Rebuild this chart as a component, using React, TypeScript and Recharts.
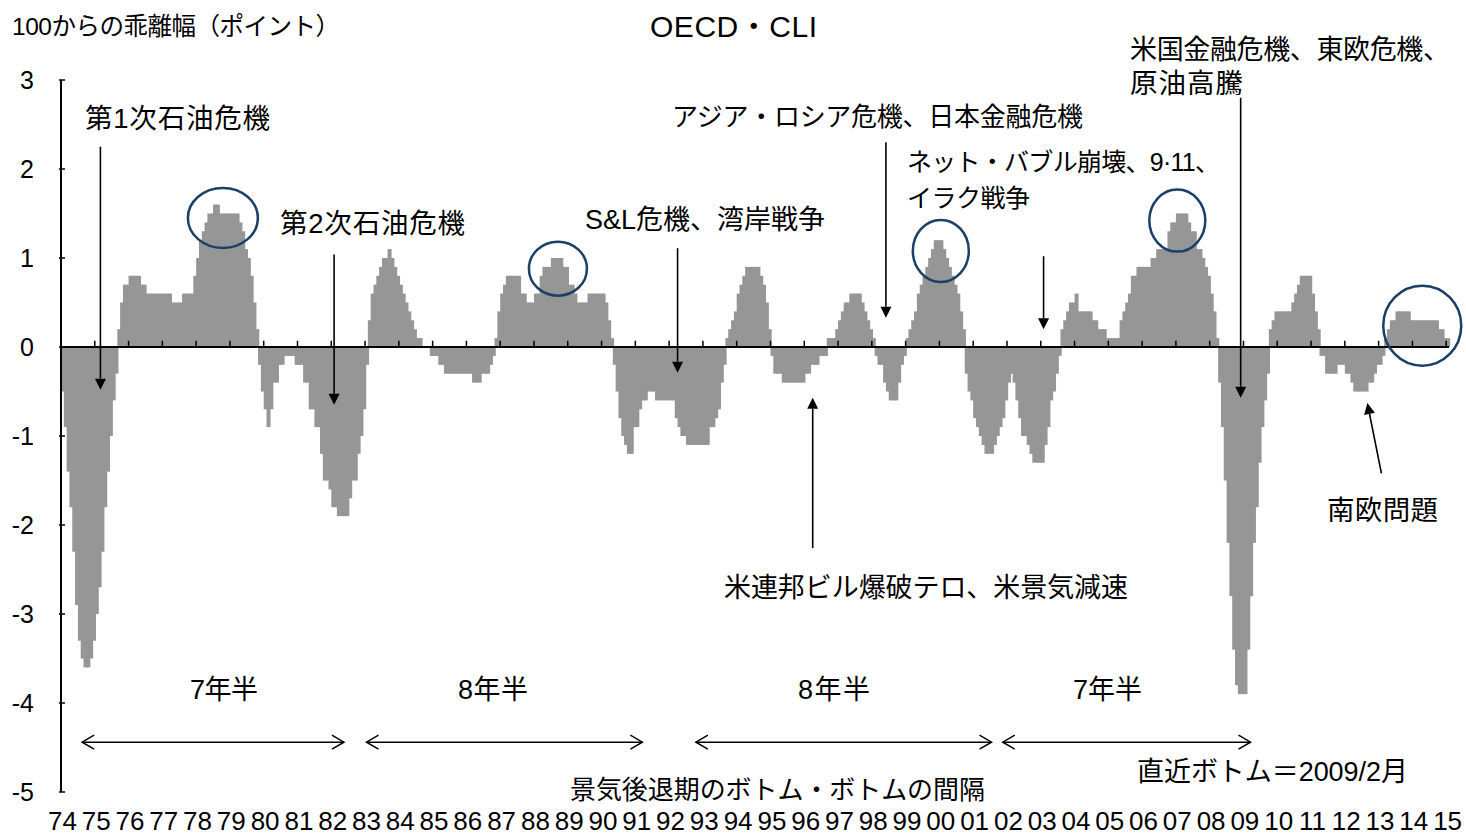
import React from "react";
import { BarChart, Bar, XAxis, YAxis, ReferenceLine, ReferenceDot } from "recharts";

// OECD CLI, deviation from 100 (points), monthly Jan 1974 - Jan 2015
const cli1970s = [
  -0.5, -0.9, -1.4, -1.8, -2.3, -2.9, -3.3, -3.5, -3.6, -3.6, -3.5, -3.3, // 74
  -3.0, -2.7, -2.3, -1.8, -1.4, -1.0, -0.6, -0.3, 0.2, 0.5, 0.7, 0.7, // 75
  0.8, 0.8, 0.8, 0.8, 0.7, 0.7, 0.6, 0.6, 0.6, 0.6, 0.6, 0.6, // 76
  0.6, 0.6, 0.6, 0.5, 0.5, 0.5, 0.5, 0.6, 0.6, 0.6, 0.6, 0.8, // 77
  1.0, 1.2, 1.3, 1.4, 1.5, 1.5, 1.6, 1.6, 1.5, 1.5, 1.5, 1.5, // 78
  1.5, 1.5, 1.5, 1.4, 1.3, 1.1, 1.0, 0.8, 0.5, 0.2, -0.2, -0.5, // 79
];
const cli1980s = [
  -0.7, -0.9, -0.7, -0.4, -0.4, -0.2, -0.2, -0.1, -0.1, -0.1, -0.1, -0.2,
  -0.2, -0.2, -0.4, -0.4, -0.7, -0.7, -0.9, -0.9, -1.2, -1.5, -1.5, -1.6,
  -1.8, -1.8, -1.9, -1.9, -1.9, -1.9, -1.7, -1.5, -1.5, -1.2, -1.0, -0.7,
  -0.2, 0.3, 0.6, 0.7, 0.8, 0.9, 1.0, 1.0, 1.1, 1.0, 0.9, 0.8,
  0.7, 0.6, 0.5, 0.4, 0.3, 0.2, 0.1, 0.1, 0, 0, 0, -0.1,
  -0.1, -0.1, -0.2, -0.2, -0.3, -0.3, -0.3, -0.3, -0.3, -0.3, -0.3, -0.3,
  -0.3, -0.3, -0.4, -0.4, -0.4, -0.3, -0.3, -0.3, -0.2, -0.1, 0.1, 0.4,
  0.6, 0.7, 0.8, 0.8, 0.8, 0.8, 0.8, 0.6, 0.6, 0.5, 0.5, 0.5,
  0.6, 0.6, 0.8, 0.9, 0.9, 0.9, 1.0, 1.0, 1.0, 1.0, 0.9, 0.9,
  0.7, 0.7, 0.6, 0.5, 0.5, 0.5, 0.5, 0.6, 0.6, 0.6, 0.6, 0.6,
];
const cli1990s = [
  0.6, 0.5, 0.3, 0.1, -0.2, -0.5, -0.8, -1.0, -1.1, -1.2, -1.2, -0.9,
  -0.9, -0.7, -0.6, -0.6, -0.5, -0.5, -0.5, -0.6, -0.6, -0.6, -0.6, -0.6,
  -0.6, -0.6, -0.8, -0.9, -1.0, -1.0, -1.1, -1.1, -1.1, -1.1, -1.1, -1.1,
  -1.1, -1.1, -0.9, -0.9, -0.8, -0.7, -0.4, -0.2, 0.1, 0.2, 0.3, 0.4,
  0.6, 0.7, 0.8, 0.9, 0.9, 0.9, 0.9, 0.9, 0.8, 0.7, 0.5, 0.2,
  -0.1, -0.3, -0.3, -0.3, -0.4, -0.4, -0.4, -0.4, -0.4, -0.4, -0.4, -0.4,
  -0.3, -0.3, -0.2, -0.2, -0.2, -0.1, -0.1, -0.1, 0.1, 0.1, 0.1, 0.2,
  0.3, 0.4, 0.5, 0.5, 0.6, 0.6, 0.6, 0.6, 0.5, 0.4, 0.3, 0.2,
  0.1, -0.1, -0.2, -0.2, -0.4, -0.5, -0.6, -0.6, -0.6, -0.4, -0.2, -0.1,
  0.1, 0.2, 0.3, 0.4, 0.6, 0.7, 0.8, 0.9, 1.0, 1.1, 1.2, 1.2,
];
const cli2000s = [
  1.2, 1.1, 1.0, 0.9, 0.8, 0.7, 0.6, 0.4, 0.2, -0.3, -0.5, -0.6,
  -0.8, -0.9, -1.0, -1.1, -1.2, -1.2, -1.2, -1.1, -1.0, -0.9, -0.8, -0.6,
  -0.4, -0.3, -0.4, -0.6, -0.8, -1.0, -1.0, -1.1, -1.2, -1.3, -1.3, -1.3,
  -1.3, -1.1, -0.9, -0.6, -0.5, -0.3, -0.1, 0.2, 0.3, 0.4, 0.5, 0.5,
  0.6, 0.4, 0.4, 0.4, 0.4, 0.4, 0.3, 0.3, 0.2, 0.2, 0.2, 0.1,
  0.1, 0.1, 0.1, 0.1, 0.3, 0.4, 0.5, 0.6, 0.8, 0.8, 0.9, 0.9,
  0.9, 0.9, 0.9, 1.0, 1.0, 1.1, 1.1, 1.1, 1.1, 1.3, 1.4, 1.4,
  1.5, 1.5, 1.5, 1.5, 1.4, 1.3, 1.3, 1.1, 1.1, 1.0, 0.9, 0.8,
  0.6, 0.4, 0.1, -0.4, -0.9, -1.5, -2.2, -2.8, -3.4, -3.8, -3.9, -3.9,
  -3.9, -3.4, -2.8, -2.2, -1.8, -1.3, -0.9, -0.6, -0.3, 0.2, 0.3, 0.4,
];
const cli2010s = [
  0.4, 0.4, 0.4, 0.4, 0.4, 0.5, 0.6, 0.7, 0.8, 0.8, 0.8, 0.8,
  0.6, 0.4, 0.2, -0.1, -0.1, -0.3, -0.3, -0.3, -0.3, -0.2, -0.2, -0.2,
  -0.3, -0.3, -0.4, -0.5, -0.5, -0.5, -0.5, -0.5, -0.4, -0.4, -0.3, -0.2,
  -0.2, -0.1, 0.1, 0.2, 0.3, 0.3, 0.4, 0.4, 0.4, 0.4, 0.4, 0.3,
  0.3, 0.3, 0.3, 0.3, 0.3, 0.3, 0.3, 0.3, 0.3, 0.2, 0.2, 0.1,
  0.1,
];

const yearLabels = [
  "74", "75", "76", "77", "78", "79", "80", "81", "82", "83", "84", "85", "86", "87",
  "88", "89", "90", "91", "92", "93", "94", "95", "96", "97", "98", "99", "00", "01",
  "02", "03", "04", "05", "06", "07", "08", "09", "10", "11", "12", "13", "14", "15",
];
const yTicks = [-5, -4, -3, -2, -1, 0, 1, 2, 3];

// annotation arrows, in (month index, value) coordinates
const eventArrows = [
  { from: [14, 2.25], to: [14, -0.48] }, // 第1次石油危機
  { from: [97, 1.04], to: [97, -0.65] }, // 第2次石油危機
  { from: [219, 1.11], to: [219, -0.29] }, // S&L
  { from: [293, 2.3], to: [293, 0.33] }, // アジア・ロシア
  { from: [267, -2.26], to: [267, -0.57] }, // 米連邦ビル
  { from: [349, 1.02], to: [349, 0.2] }, // ネット・バブル
  { from: [419, 2.8], to: [419, -0.57] }, // 米国金融危機
  { from: [469, -1.42], to: [464, -0.63] }, // 南欧問題
];
const cycleSpans = [
  [7, 100],
  [108, 206],
  [225, 330],
  [334, 422],
];
const cycleSpanLevel = -4.44;
const peakRings = [
  { month: 57, level: 1.45, rx: 35, ry: 30 },
  { month: 176, level: 0.88, rx: 29, ry: 27 },
  { month: 312, level: 1.08, rx: 28, ry: 31 },
  { month: 396, level: 1.42, rx: 28, ry: 31 },
  { month: 483, level: 0.24, rx: 39, ry: 40 },
];

// x = left edge, y = middle, w = width of the text in the source picture
const notes = [
  { text: "第1次石油危機", x: 85, y: 118, w: 185, size: 27.5 },
  { text: "第2次石油危機", x: 280, y: 223, w: 185, size: 27.5 },
  { text: "S&L危機、湾岸戦争", x: 585, y: 220, w: 240, size: 27 },
  { text: "アジア・ロシア危機、日本金融危機", x: 672, y: 117, w: 411, size: 26 },
  { text: "ネット・バブル崩壊、9·11、", x: 907, y: 162, w: 313, size: 25 },
  { text: "イラク戦争", x: 907, y: 198, w: 123, size: 25 },
  { text: "米国金融危機、東欧危機、", x: 1130, y: 50, w: 320, size: 27 },
  { text: "原油高騰", x: 1130, y: 83, w: 113, size: 27.5 },
  { text: "米連邦ビル爆破テロ、米景気減速", x: 724, y: 588, w: 404, size: 27 },
  { text: "南欧問題", x: 1327, y: 510, w: 111, size: 27.5 },
  { text: "7年半", x: 190, y: 690, w: 68, size: 27 },
  { text: "8年半", x: 458, y: 690, w: 70, size: 27 },
  { text: "8年半", x: 798, y: 690, w: 72, size: 27 },
  { text: "7年半", x: 1073, y: 690, w: 69, size: 27 },
  { text: "景気後退期のボトム・ボトムの間隔", x: 570, y: 790, w: 415, size: 26 },
  { text: "直近ボトム＝2009/2月", x: 1137, y: 772, w: 271, size: 27 },
];

const FONT = "'Liberation Sans', Arial, 'Noto Sans CJK JP', sans-serif";
const BAR_GRAY = "#969696";
const RING_BLUE = "#1b3f66";

const data = [...cli1970s, ...cli1980s, ...cli1990s, ...cli2000s, ...cli2010s].map(
  (v, i) => ({ idx: i, cli: v })
);
const yearStarts = yearLabels.map((_, k) => k * 12);

// bars are ~2.8px wide; recharts truncates to 2px so widen by 1 to close the gaps
const SolidBar = (p: any) => {
  const { x, y, width, height } = p;
  if (!height) return <g />;
  const top = height < 0 ? y + height : y;
  return <rect x={x} y={top} width={width + 1} height={Math.abs(height)} fill={BAR_GRAY} />;
};

const PointerArrow = (p: any) => {
  const { x1, y1, x2, y2 } = p;
  const a = Math.atan2(y2 - y1, x2 - x1);
  const len = 11;
  const hw = 5.5;
  const bx = x2 - len * Math.cos(a);
  const by = y2 - len * Math.sin(a);
  const px = -Math.sin(a) * hw;
  const py = Math.cos(a) * hw;
  return (
    <g>
      <line x1={x1} y1={y1} x2={bx} y2={by} stroke="#000" strokeWidth={1.6} />
      <polygon points={`${x2},${y2} ${bx + px},${by + py} ${bx - px},${by - py}`} fill="#000" />
    </g>
  );
};

const SpanArrow = (p: any) => {
  const { x1, y1, x2 } = p;
  return (
    <g fill="none" stroke="#000" strokeWidth={1.5}>
      <line x1={x1} y1={y1} x2={x2} y2={y1} />
      <polyline points={`${x1 + 12},${y1 - 7} ${x1},${y1} ${x1 + 12},${y1 + 7}`} />
      <polyline points={`${x2 - 12},${y1 - 7} ${x2},${y1} ${x2 - 12},${y1 + 7}`} />
    </g>
  );
};

const YTick = (p: any) => {
  const { x, y, payload } = p;
  return (
    <g>
      <line x1={x} y1={y} x2={x + 6} y2={y} stroke="#000" strokeWidth={1.5} />
      <text x={x - 25} y={y} textAnchor="end" dominantBaseline="central" fontSize={25} fill="#000" fontFamily={FONT}>
        {payload.value}
      </text>
    </g>
  );
};

const XTick = (p: any) => {
  const { x, y, payload } = p;
  return (
    <text x={x} y={y + 27} textAnchor="middle" dominantBaseline="central" fontSize={26} fill="#000" fontFamily={FONT}>
      {yearLabels[payload.value / 12]}
    </text>
  );
};

export default function App() {
  return (
    <div style={{ position: "relative", width: 1466, height: 837, background: "#fff" }}>
      <style>{`body{margin:0}`}</style>
      <BarChart
        width={1466}
        height={837}
        data={data}
        margin={{ top: 80, right: 17, bottom: 0, left: 0 }}
        barCategoryGap={0}
        barGap={0}
      >
        <XAxis
          dataKey="idx"
          type="category"
          ticks={yearStarts}
          interval={0}
          axisLine={false}
          tickLine={false}
          tickSize={0}
          height={45}
          tick={<XTick />}
        />
        <YAxis
          domain={[-5, 3]}
          ticks={yTicks}
          interval={0}
          width={61}
          tickSize={0}
          tickLine={false}
          axisLine={{ stroke: "#000", strokeWidth: 2 }}
          tick={<YTick />}
        />
        <Bar dataKey="cli" isAnimationActive={false} shape={SolidBar} />
        <ReferenceLine y={0} stroke="#000" strokeWidth={2} />
        {yearStarts.slice(1).map((m) => (
          <ReferenceLine
            key={`t${m}`}
            segment={[{ x: m, y: 0 }, { x: m, y: 0.07 }]}
            position="start"
            stroke="#000"
            strokeWidth={1.5}
          />
        ))}
        {eventArrows.map((a, i) => (
          <ReferenceLine
            key={`a${i}`}
            segment={[{ x: a.from[0], y: a.from[1] }, { x: a.to[0], y: a.to[1] }]}
            position="start"
            shape={PointerArrow}
          />
        ))}
        {cycleSpans.map((s, i) => (
          <ReferenceLine
            key={`s${i}`}
            segment={[{ x: s[0], y: cycleSpanLevel }, { x: s[1], y: cycleSpanLevel }]}
            shape={SpanArrow}
          />
        ))}
        {peakRings.map((r, i) => (
          <ReferenceDot
            key={`r${i}`}
            x={r.month}
            y={r.level}
            r={r.rx}
            shape={(p: any) => (
              <ellipse cx={p.cx} cy={p.cy} rx={r.rx} ry={r.ry} fill="none" stroke={RING_BLUE} strokeWidth={2.5} />
            )}
          />
        ))}
      </BarChart>
      <svg
        width={1466}
        height={837}
        style={{ position: "absolute", left: 0, top: 0, pointerEvents: "none" }}
        fontFamily={FONT}
      >
        <text x={12} y={26} fontSize={24.5} dominantBaseline="central" textLength={328} lengthAdjust="spacing">
          100からの乖離幅（ポイント）
        </text>
        <text x={650} y={26} fontSize={30} dominantBaseline="central" textLength={167} lengthAdjust="spacing">
          OECD・CLI
        </text>
        {notes.map((n, i) => (
          <text
            key={i}
            x={n.x}
            y={n.y}
            fontSize={n.size}
            dominantBaseline="central"
            textLength={n.w}
            lengthAdjust="spacing"
          >
            {n.text}
          </text>
        ))}
      </svg>
    </div>
  );
}
